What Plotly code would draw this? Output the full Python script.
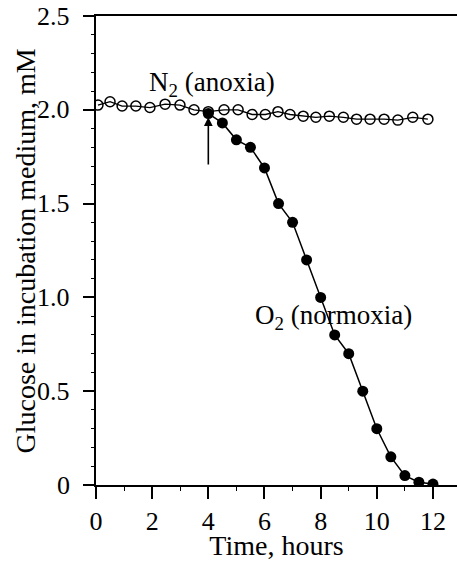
import plotly.graph_objects as go

# Data
n2_time = [0.07, 0.5, 0.93, 1.42, 1.92, 2.46, 2.99, 3.49, 4.0, 4.56, 5.06, 5.56, 6.03,
           6.48, 6.91, 7.38, 7.83, 8.31, 8.81, 9.28, 9.76, 10.26, 10.75, 11.28, 11.82]
n2_glucose = [2.025, 2.043, 2.02, 2.02, 2.012, 2.03, 2.025, 2.0, 1.99, 2.0, 2.0, 1.975, 1.975,
              1.99, 1.975, 1.966, 1.96, 1.966, 1.96, 1.95, 1.95, 1.95, 1.945, 1.96, 1.95]
o2_time = [4.0, 4.5, 5.0, 5.5, 6.0, 6.5, 7.0, 7.5, 8.0, 8.5, 9.0, 9.5, 10.0, 10.5, 11.0, 11.5, 12.0]
o2_glucose = [1.98, 1.93, 1.84, 1.80, 1.69, 1.50, 1.40, 1.20, 1.00, 0.80, 0.70, 0.50, 0.30,
              0.15, 0.05, 0.015, 0.005]

y_ticks = [0, 0.5, 1.0, 1.5, 2.0, 2.5]
y_ticktext = ["0", "0.5", "1.0", "1.5", "2.0", "2.5"]
x_ticks = [0, 2, 4, 6, 8, 10, 12]

FONT = "Liberation Serif"
FS = 26
FT = 28
FA = 27

fig = go.Figure()
fig.add_trace(go.Scatter(
    x=n2_time, y=n2_glucose, mode="lines+markers",
    line=dict(color="black", width=1.3),
    marker=dict(symbol="circle-open", size=10, color="black", line=dict(width=1.5)),
    showlegend=False))
fig.add_trace(go.Scatter(
    x=o2_time, y=o2_glucose, mode="lines+markers",
    line=dict(color="black", width=1.5),
    marker=dict(symbol="circle", size=11, color="black"),
    showlegend=False))

fig.add_annotation(x=4.0, y=1.96, ax=4.0, ay=1.70, xref="x", yref="y", axref="x", ayref="y",
                   showarrow=True, arrowhead=2, arrowsize=1.1, arrowwidth=1.6, arrowcolor="black",
                   text="")
fig.add_annotation(x=4.13, y=2.14, xref="x", yref="y", showarrow=False,
                   text="N<sub>2</sub> (anoxia)", font=dict(family=FONT, size=FA, color="black"))
fig.add_annotation(x=8.46, y=0.895, xref="x", yref="y", showarrow=False,
                   text="O<sub>2</sub> (normoxia)", font=dict(family=FONT, size=FA, color="black"))
fig.add_annotation(x=-0.194, y=0.5, xref="paper", yref="paper", showarrow=False,
                   xanchor="center", yanchor="middle", textangle=-90,
                   text="Glucose in incubation medium, mM",
                   font=dict(family=FONT, size=FT, color="black"))
# y tick labels placed a little farther from the axis, as in the reference
for v, t in zip(y_ticks, y_ticktext):
    fig.add_annotation(x=-0.066, y=v, xref="paper", yref="y", showarrow=False,
                       xanchor="right", yanchor="middle", text=t,
                       font=dict(family=FONT, size=FS, color="black"))

fig.update_layout(
    width=457, height=561,
    margin=dict(l=96, r=0, t=16, b=76),
    paper_bgcolor="white", plot_bgcolor="white",
    font=dict(family=FONT, size=FS, color="black"),
    xaxis=dict(range=[0, 12.856], showgrid=False, zeroline=False,
               showline=True, linecolor="black", linewidth=1.5, mirror=True,
               ticks="outside", ticklen=12, tickwidth=1.5, tickcolor="black",
               tickvals=x_ticks,
               minor=dict(dtick=1, ticks="outside", ticklen=4, tickwidth=1.2, tickcolor="black"),
               tickfont=dict(family=FONT, size=FS),
               title=dict(text="Time, hours", font=dict(family=FONT, size=FT), standoff=1)),
    yaxis=dict(range=[0, 2.5], showgrid=False, zeroline=False,
               showline=True, linecolor="black", linewidth=1.5,
               ticks="outside", ticklen=11, tickwidth=1.5, tickcolor="black",
               tickvals=y_ticks, showticklabels=False,
               minor=dict(dtick=0.1, ticks="outside", ticklen=3, tickwidth=1.2, tickcolor="black")),
)

fig.write_html("out.html")
